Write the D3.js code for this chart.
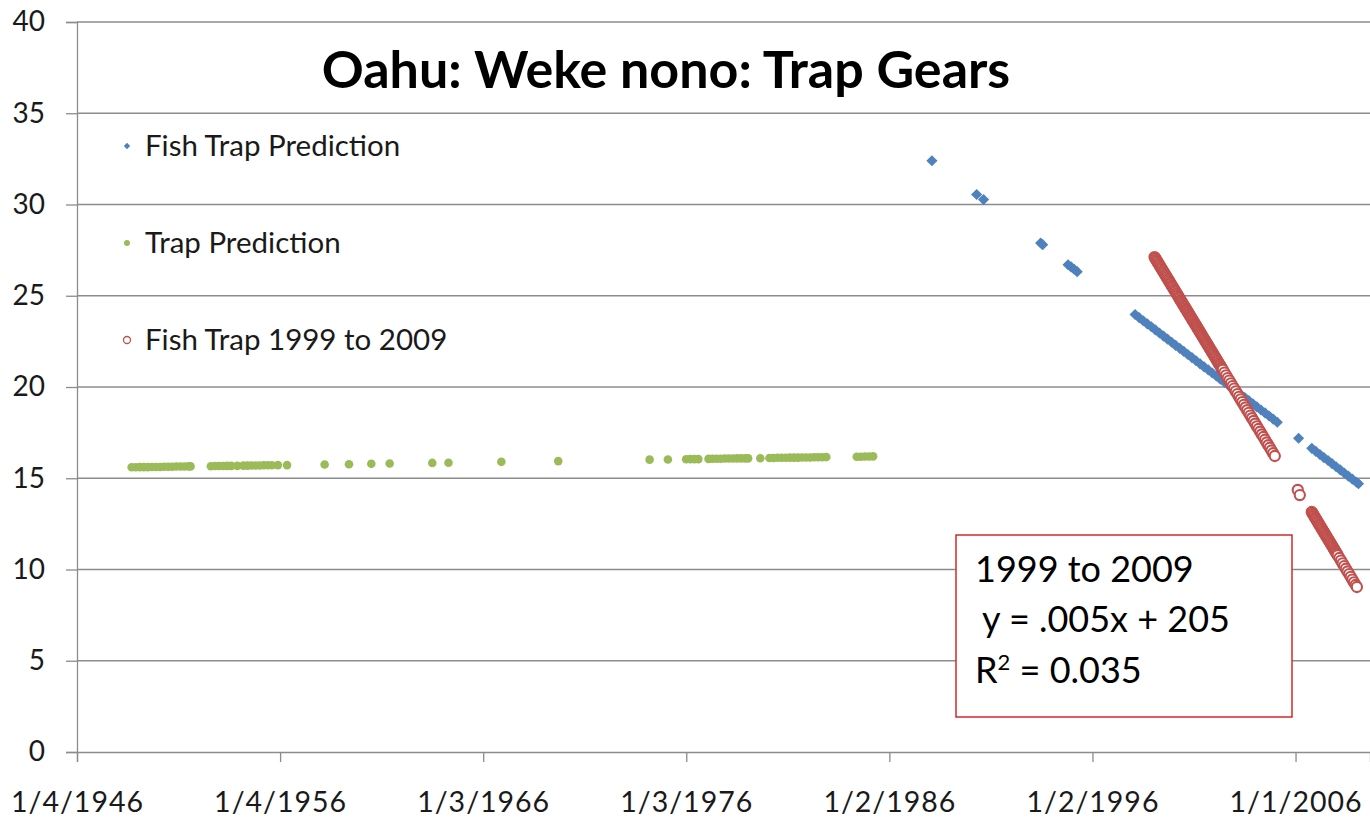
<!DOCTYPE html>
<html>
<head>
<meta charset="utf-8">
<script src="https://cdn.jsdelivr.net/npm/d3@7"></script>
<style>
  html, body { margin: 0; padding: 0; background: #fff; }
  svg { display: block; font-family: Lato, "Open Sans", sans-serif; }
</style>
</head>
<body>
<svg id="chart" width="1370" height="821"></svg>
<script>
// axis ticks
const yTicks = [0, 5, 10, 15, 20, 25, 30, 35, 40];
const xTickDates = ["1946-01-04", "1956-01-04", "1966-01-03", "1976-01-03", "1986-01-02", "1996-01-02", "2006-01-01"];

// Fish Trap Prediction (blue diamonds), decimal years
const fishPredYears = [1988.1, 1990.3, 1990.64, 1993.45, 1993.55, 1994.8, 1994.95, 1995.1, 1995.25,
  1998.1, 1998.3, 1998.5, 1998.7, 1998.9, 1999.1, 1999.3, 1999.5, 1999.7, 1999.9,
  2000.1, 2000.3, 2000.5, 2000.7, 2000.9, 2001.1, 2001.3, 2001.5, 2001.7, 2001.9,
  2002.1, 2002.3, 2002.5, 2002.7, 2002.9, 2003.1, 2003.3, 2003.5, 2003.7, 2003.9,
  2004.1, 2004.3, 2004.5, 2004.7, 2004.9, 2005.1, 2006.15,
  2006.8, 2007.0, 2007.2, 2007.4, 2007.6, 2007.8, 2008.0, 2008.2, 2008.4, 2008.6, 2008.8, 2009.0, 2009.1];
const fishPredValues = [32.4, 30.55, 30.27, 27.89, 27.8, 26.7, 26.58, 26.45, 26.32,
  23.97, 23.8, 23.63, 23.46, 23.3, 23.13, 22.96, 22.79, 22.62, 22.45,
  22.28, 22.12, 21.95, 21.78, 21.61, 21.44, 21.27, 21.1, 20.94, 20.77,
  20.6, 20.43, 20.26, 20.09, 19.92, 19.76, 19.59, 19.42, 19.25, 19.08,
  18.91, 18.74, 18.58, 18.41, 18.24, 18.07, 17.19,
  16.64, 16.47, 16.3, 16.13, 15.97, 15.8, 15.63, 15.46, 15.29, 15.12, 14.95, 14.78, 14.7];

// Trap Prediction (green dots)
const trapPredYears = [1948.7, 1948.9, 1949.1, 1949.3, 1949.5, 1949.7, 1949.9, 1950.1, 1950.3, 1950.5,
  1950.7, 1950.9, 1951.1, 1951.3, 1951.5, 1951.6, 1952.6, 1952.8, 1953.0, 1953.2, 1953.4, 1953.6, 1953.9,
  1954.2, 1954.4, 1954.6, 1954.8, 1955.0, 1955.2, 1955.4, 1955.6, 1955.9, 1956.35,
  1958.2, 1959.4, 1960.5, 1961.4, 1963.5, 1964.3, 1966.9, 1969.7,
  1974.2, 1975.1, 1976.0, 1976.2, 1976.4, 1976.6, 1977.1, 1977.3, 1977.5, 1977.7, 1977.9,
  1978.1, 1978.3, 1978.5, 1978.7, 1978.9, 1979.05, 1979.65,
  1980.1, 1980.3, 1980.5, 1980.7, 1980.9, 1981.1, 1981.3, 1981.5, 1981.7, 1981.9,
  1982.1, 1982.3, 1982.5, 1982.7, 1982.9, 1984.4, 1984.6, 1984.8, 1985.0, 1985.2];
const trapPredValues = [15.6, 15.6, 15.61, 15.61, 15.61, 15.62, 15.62, 15.62, 15.63, 15.63,
  15.63, 15.64, 15.64, 15.64, 15.65, 15.65, 15.66, 15.67, 15.67, 15.67, 15.68, 15.68, 15.68,
  15.69, 15.69, 15.7, 15.7, 15.7, 15.71, 15.71, 15.71, 15.72, 15.72,
  15.75, 15.77, 15.79, 15.81, 15.84, 15.85, 15.9, 15.94,
  16.02, 16.03, 16.04, 16.05, 16.05, 16.05, 16.06, 16.07, 16.07, 16.07, 16.08,
  16.08, 16.08, 16.09, 16.09, 16.09, 16.09, 16.1,
  16.11, 16.11, 16.12, 16.12, 16.12, 16.13, 16.13, 16.13, 16.14, 16.14,
  16.14, 16.15, 16.15, 16.15, 16.16, 16.18, 16.18, 16.19, 16.19, 16.2];

// Fish Trap 1999 to 2009 (red open circles)
const fishTrapYears = [
  1999.06, 1999.10, 1999.14, 1999.18, 1999.22, 1999.26, 1999.30, 1999.34, 1999.38, 1999.42,
  1999.46, 1999.50, 1999.54, 1999.58, 1999.62, 1999.66, 1999.70, 1999.74, 1999.78, 1999.82,
  1999.86, 1999.90, 1999.94, 1999.98, 2000.02, 2000.06, 2000.10, 2000.14, 2000.18, 2000.22,
  2000.26, 2000.30, 2000.34, 2000.38, 2000.42, 2000.46, 2000.50, 2000.54, 2000.58, 2000.62,
  2000.66, 2000.70, 2000.74, 2000.78, 2000.82, 2000.86, 2000.90, 2000.94, 2000.98, 2001.02,
  2001.06, 2001.10, 2001.14, 2001.18, 2001.22, 2001.26, 2001.30, 2001.34, 2001.38, 2001.42,
  2001.46, 2001.50, 2001.54, 2001.58, 2001.62, 2001.66, 2001.70, 2001.74, 2001.78, 2001.82,
  2001.86, 2001.90, 2001.94, 2001.98, 2002.02, 2002.06, 2002.10, 2002.14, 2002.18, 2002.22,
  2002.26, 2002.30, 2002.34, 2002.38, 2002.42,
  2002.50, 2002.58, 2002.66, 2002.74, 2002.82, 2002.90, 2002.98,
  2003.06, 2003.14, 2003.22, 2003.30, 2003.38, 2003.46, 2003.54, 2003.62, 2003.70, 2003.78,
  2003.86, 2003.94, 2004.02, 2004.10, 2004.18, 2004.26, 2004.34, 2004.42, 2004.50, 2004.58,
  2004.66, 2004.74, 2004.82, 2004.90, 2004.98,
  2006.11, 2006.21,
  2006.80, 2006.84, 2006.88, 2006.92, 2006.96, 2007.00, 2007.04, 2007.08, 2007.12, 2007.16,
  2007.20, 2007.24, 2007.28, 2007.32, 2007.36, 2007.40, 2007.44, 2007.48, 2007.52, 2007.56,
  2007.60, 2007.64, 2007.68, 2007.72, 2007.76, 2007.80, 2007.84, 2007.88, 2007.92, 2007.96,
  2008.00, 2008.04, 2008.08,
  2008.16, 2008.24, 2008.32, 2008.40, 2008.48, 2008.56, 2008.64, 2008.72, 2008.80, 2008.88,
  2008.96, 2009.02];
const fishTrapValues = [
  27.12, 27.05, 26.97, 26.90, 26.83, 26.75, 26.68, 26.60, 26.53, 26.46,
  26.38, 26.31, 26.24, 26.16, 26.09, 26.02, 25.94, 25.87, 25.80, 25.72,
  25.65, 25.57, 25.50, 25.43, 25.35, 25.28, 25.21, 25.13, 25.06, 24.99,
  24.91, 24.84, 24.76, 24.69, 24.62, 24.54, 24.47, 24.40, 24.32, 24.25,
  24.18, 24.10, 24.03, 23.96, 23.88, 23.81, 23.73, 23.66, 23.59, 23.51,
  23.44, 23.37, 23.29, 23.22, 23.14, 23.07, 23.00, 22.92, 22.85, 22.78,
  22.70, 22.63, 22.56, 22.48, 22.41, 22.34, 22.26, 22.19, 22.11, 22.04,
  21.97, 21.89, 21.82, 21.75, 21.67, 21.60, 21.53, 21.45, 21.38, 21.30,
  21.23, 21.16, 21.08, 21.01, 20.94,
  20.79, 20.64, 20.49, 20.35, 20.20, 20.05, 19.91,
  19.76, 19.61, 19.46, 19.32, 19.17, 19.02, 18.88, 18.73, 18.58, 18.43,
  18.29, 18.14, 17.99, 17.84, 17.70, 17.55, 17.40, 17.26, 17.11, 16.96,
  16.81, 16.67, 16.52, 16.37, 16.22,
  14.36, 14.08,
  13.15, 13.08, 13.00, 12.93, 12.85, 12.78, 12.71, 12.63, 12.56, 12.48,
  12.41, 12.34, 12.26, 12.19, 12.11, 12.04, 11.97, 11.89, 11.82, 11.74,
  11.67, 11.60, 11.52, 11.45, 11.37, 11.30, 11.23, 11.15, 11.08, 11.00,
  10.93, 10.86, 10.78,
  10.63, 10.49, 10.34, 10.19, 10.04, 9.89, 9.75, 9.60, 9.45, 9.30,
  9.15, 9.04];

const legendLabels = ["Fish Trap Prediction", "Trap Prediction", "Fish Trap 1999 to 2009"];

const blue = "#4F81BD", green = "#9BBB59", red = "#C0504D";

// decimal year -> Date
function toDate(yr) {
  const y = Math.floor(yr);
  const start = new Date(y, 0, 1);
  return new Date(start.getTime() + (yr - y) * 365.25 * 864e5);
}
function pairs(years, values) {
  return years.map((yr, i) => ({ date: toDate(yr), value: values[i] }));
}

const svg = d3.select("#chart");
const plotLeft = 77, plotRight = 1370, plotTop = 22, plotBottom = 752;

const x = d3.scaleTime()
  .domain([new Date(1946, 0, 4), new Date(2009, 8, 1)])
  .range([plotLeft, plotRight]);
const y = d3.scaleLinear().domain([0, 40]).range([plotBottom, plotTop]);

// gridlines
svg.append("g").selectAll("line")
  .data(yTicks.filter(d => d > 0))
  .enter().append("line")
  .attr("x1", plotLeft).attr("x2", plotRight)
  .attr("y1", d => y(d)).attr("y2", d => y(d))
  .attr("stroke", "#8c8c8c").attr("stroke-width", 1.3);

// y axis
const yAxis = svg.append("g")
  .attr("transform", `translate(${plotLeft},0)`)
  .call(d3.axisLeft(y).tickValues(yTicks).tickSize(11).tickPadding(21));
yAxis.select(".domain").attr("stroke", "#8c8c8c").attr("stroke-width", 1.3);
yAxis.selectAll(".tick line").attr("stroke", "#8c8c8c").attr("stroke-width", 1.3);
yAxis.selectAll("text").attr("font-size", 28).attr("fill", "#1a1a1a")
  .attr("font-family", "Lato, sans-serif");

// x axis
const parseDay = d3.timeParse("%Y-%m-%d");
const xAxis = svg.append("g")
  .attr("transform", `translate(0,${plotBottom})`)
  .call(d3.axisBottom(x)
    .tickValues(xTickDates.map(parseDay))
    .tickFormat(d3.timeFormat("%-m/%-d/%Y"))
    .tickSize(10).tickPadding(30));
xAxis.select(".domain").attr("stroke", "#8c8c8c").attr("stroke-width", 1.3);
xAxis.selectAll(".tick line").attr("stroke", "#8c8c8c").attr("stroke-width", 1.3);
xAxis.selectAll("text").attr("font-size", 28.5).attr("letter-spacing", 1).attr("fill", "#1a1a1a")
  .attr("font-family", "Lato, sans-serif");

// blue diamonds
const diamond = d3.symbol().type(d3.symbolSquare).size(62);
svg.append("g").selectAll("path")
  .data(pairs(fishPredYears, fishPredValues))
  .enter().append("path")
  .attr("d", diamond)
  .attr("transform", d => `translate(${x(d.date)},${y(d.value)}) rotate(45)`)
  .attr("fill", blue);

// green dots
svg.append("g").selectAll("circle")
  .data(pairs(trapPredYears, trapPredValues))
  .enter().append("circle")
  .attr("cx", d => x(d.date))
  .attr("cy", d => y(d.value))
  .attr("r", 4.3)
  .attr("fill", green);

// red open circles
svg.append("g").selectAll("circle")
  .data(pairs(fishTrapYears, fishTrapValues))
  .enter().append("circle")
  .attr("cx", d => x(d.date))
  .attr("cy", d => y(d.value))
  .attr("r", 5.1)
  .attr("fill", "#fff")
  .attr("stroke", red)
  .attr("stroke-width", 2.1);

// title
svg.append("text")
  .attr("x", 666).attr("y", 88)
  .attr("text-anchor", "middle")
  .attr("font-size", 52).attr("font-weight", "bold").attr("fill", "#000")
  .text("Oahu: Weke nono: Trap Gears");

// legend
const legend = svg.append("g");
const legendY = [146, 243, 340];
legend.selectAll("text")
  .data(legendLabels)
  .enter().append("text")
  .attr("x", 145).attr("y", (d, i) => legendY[i] + 10)
  .attr("font-size", 29.5).attr("fill", "#1a1a1a")
  .text(d => d);
legend.append("path")
  .attr("d", d3.symbol().type(d3.symbolSquare).size(20))
  .attr("transform", `translate(127,${legendY[0]}) rotate(45)`)
  .attr("fill", blue);
legend.append("circle")
  .attr("cx", 127).attr("cy", legendY[1]).attr("r", 3)
  .attr("fill", green);
legend.append("circle")
  .attr("cx", 127).attr("cy", legendY[2]).attr("r", 3.5)
  .attr("fill", "#fff").attr("stroke", red).attr("stroke-width", 1.3);

// trend annotation box
const note = svg.append("g");
note.append("rect")
  .attr("x", 956).attr("y", 535).attr("width", 336).attr("height", 182)
  .attr("fill", "#fff").attr("stroke", "#D42A2A").attr("stroke-width", 1.5);
note.append("text").attr("x", 975).attr("y", 582)
  .attr("font-size", 36).attr("fill", "#000").text("1999 to 2009");
note.append("text").attr("x", 982).attr("y", 632)
  .attr("font-size", 36).attr("fill", "#000").text("y = .005x + 205");
const r2 = note.append("text").attr("x", 975).attr("y", 683)
  .attr("font-size", 36).attr("fill", "#000");
r2.append("tspan").text("R");
r2.append("tspan").attr("dy", -13).attr("font-size", 22).text("2");
r2.append("tspan").attr("dy", 13).text(" = 0.035");
</script>
</body>
</html>
